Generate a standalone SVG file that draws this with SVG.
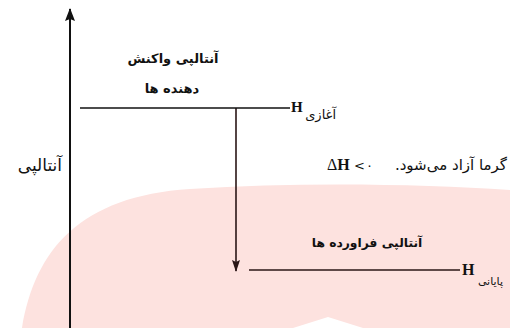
<svg xmlns="http://www.w3.org/2000/svg" width="510" height="328" viewBox="0 0 510 328">
<style>
.fa{font-family:"DejaVu Sans",sans-serif;fill:#111}
.r{direction:rtl;text-anchor:start}
.b{font-weight:bold}
.h{font-family:"Liberation Serif",serif;font-weight:bold;fill:#111}
.ln{stroke:#111;fill:none}
.dk{stroke:#2a1616;fill:none}
</style>
<defs>
<marker id="ah" markerUnits="userSpaceOnUse" markerWidth="14" markerHeight="12" refX="12" refY="5" orient="auto">
<path d="M0,0 L13,5 L0,10 L2,5 Z" fill="#111"/>
</marker>
<marker id="ah2" markerUnits="userSpaceOnUse" markerWidth="14" markerHeight="12" refX="11" refY="4" orient="auto">
<path d="M0,0 L12,4 L0,8 L2,4 Z" fill="#2a1616"/>
</marker>
</defs>
<rect width="510" height="328" fill="#fff"/>
<g id="watermark">
<path d="M22,328 C35,250 80,196 190,189 C300,182 420,184 510,190 L510,328 L363,328 L328,317 L293,328 Z" fill="#fde2df"/>
</g>
<g id="connectors">
<line class="ln" x1="70" y1="328" x2="70" y2="9" stroke-width="2" marker-end="url(#ah)"/>
<line class="dk" x1="236" y1="108" x2="236" y2="271" stroke-width="1.6" marker-end="url(#ah2)"/>
</g>
<g id="level-start">
<line class="ln" x1="80" y1="108" x2="290" y2="108" stroke-width="1.5"/>
<text class="h" x="291" y="112" font-size="15">H</text>
<text class="fa r" x="336" y="119" font-size="13">آغازی</text>
</g>
<g id="label-reactants">
<text class="fa b" x="173" y="63" font-size="13" text-anchor="middle" direction="rtl">آنتالپی واکنش</text>
<text class="fa b" x="172" y="93" font-size="13" text-anchor="middle" direction="rtl">دهنده ها</text>
</g>
<g id="axis-label">
<text class="fa r" x="62" y="171" font-size="17">آنتالپی</text>
</g>
<g id="delta-label">
<text class="fa r" x="507" y="170" font-size="15">گرما آزاد می‌شود.</text>
<text x="327" y="170" font-size="16" font-family="Liberation Serif,serif" fill="#111">Δ<tspan font-weight="bold">H</tspan></text>
<text class="fa" x="354" y="170" font-size="13">&lt;</text>
<text class="fa" x="366" y="170" font-size="13">۰</text>
</g>
<g id="level-end">
<line class="dk" x1="249" y1="270" x2="460" y2="270" stroke-width="1.5"/>
<text class="h" x="462" y="275" font-size="16" fill="#2a1616">H</text>
<text class="fa r" x="503" y="285" font-size="11">پایانی</text>
</g>
<g id="label-products">
<text class="fa b" x="367" y="247" font-size="12.3" text-anchor="middle" direction="rtl">آنتالپی فراورده ها</text>
</g>
</svg>
